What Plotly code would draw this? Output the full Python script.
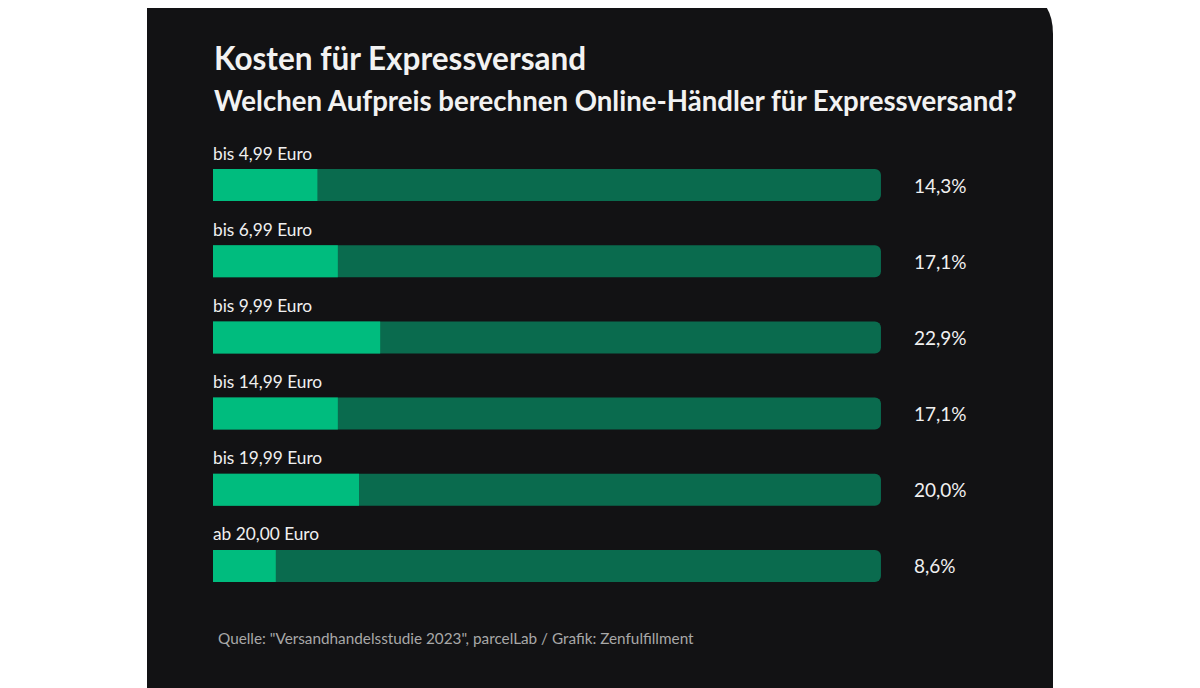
import plotly.graph_objects as go

categories = ["bis 4,99 Euro", "bis 6,99 Euro", "bis 9,99 Euro",
              "bis 14,99 Euro", "bis 19,99 Euro", "ab 20,00 Euro"]
values = [14.3, 17.1, 22.9, 17.1, 20.0, 8.6]
value_labels = ["14,3%", "17,1%", "22,9%", "17,1%", "20,0%", "8,6%"]
track_max = 91.5

ypos = list(range(len(categories)))
font = "Lato"

# page is rendered with an 8px body offset, so compensate
OFF = 8
W, H = 1200, 688
pl, pr, pt, pb = 213 - OFF, 147 + OFF, 147 - OFF, 84 + OFF
def px(x): return (x - OFF - pl) / (W - pl - pr)
def py(y): return (H - pb - (y - OFF)) / (H - pt - pb)

xmax = (W - pl - pr) / 7.3

fig = go.Figure()
fig.add_trace(go.Bar(x=[track_max] * len(ypos), y=ypos, orientation="h", width=0.42,
                     marker=dict(color="#0a6b4e", cornerradius=6, line=dict(width=0)),
                     hoverinfo="skip"))
fig.add_trace(go.Bar(x=values, y=ypos, orientation="h", width=0.42,
                     marker=dict(color="#00bc7e", cornerradius=5, line=dict(width=0))))

for i, (c, lab) in enumerate(zip(categories, value_labels)):
    fig.add_annotation(x=0, y=i - 0.42, text=c, showarrow=False, xanchor="left",
                       yanchor="middle", xshift=-2, font=dict(size=17.3, color="#f0f0f0", family=font))
    fig.add_annotation(x=95.8, y=i, text=lab, showarrow=False, xanchor="left",
                       yanchor="middle", font=dict(size=19, color="#f0f0f0", family=font))

top = -OFF
path = (f"M {px(147)} {py(top)} L {px(147)} {py(720)} L {px(1053)} {py(720)} "
        f"L {px(1053)} {py(top + 42)} Q {px(1053)} {py(top)} {px(1011)} {py(top)} Z")
fig.add_shape(type="path", xref="paper", yref="paper", layer="below", path=path,
              fillcolor="#121214", line=dict(width=0))

fig.update_layout(
    width=1200, height=688, paper_bgcolor="white", plot_bgcolor="rgba(0,0,0,0)",
    barmode="overlay", showlegend=False,
    margin=dict(l=pl, r=pr, t=pt, b=pb),
    xaxis=dict(range=[0, xmax], visible=False, fixedrange=True),
    yaxis=dict(range=[5.5, -0.5], visible=False, fixedrange=True),
    font=dict(family=font),
)

fig.add_annotation(xref="paper", yref="paper", x=px(212), y=py(58), text="<b>Kosten für Expressversand</b>",
                   showarrow=False, xanchor="left", yanchor="middle",
                   font=dict(size=31.5, color="#f2f2f2", family=font))
fig.add_annotation(xref="paper", yref="paper", x=px(212), y=py(101),
                   text="<b>Welchen Aufpreis berechnen Online-Händler für Expressversand?</b>",
                   showarrow=False, xanchor="left", yanchor="middle",
                   font=dict(size=27.6, color="#f2f2f2", family=font))
fig.add_annotation(xref="paper", yref="paper", x=px(216), y=py(638),
                   text='Quelle: "Versandhandelsstudie 2023", parcelLab / Grafik: Zenfulfillment',
                   showarrow=False, xanchor="left", yanchor="middle",
                   font=dict(size=15.3, color="#a8a8a8", family=font))

fig.write_html("out.html")
